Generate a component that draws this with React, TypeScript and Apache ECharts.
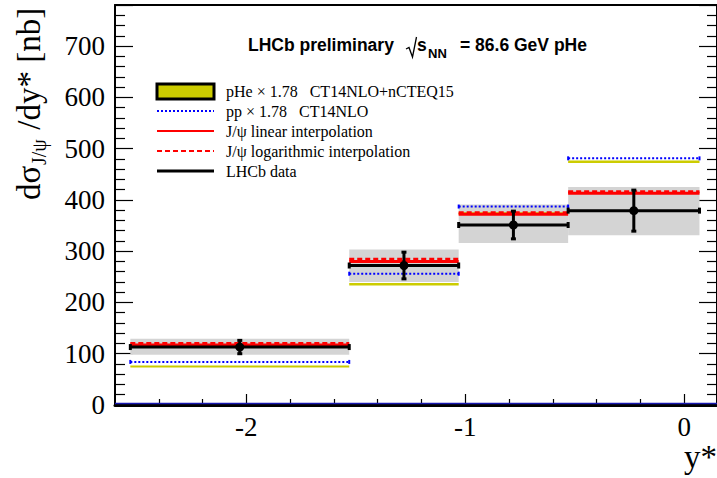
import React, { useEffect, useRef } from 'react';
import * as echarts from 'echarts';

// ---- data ----
const binLo = [-2.53, -1.53, -1.03, -0.53];
const binHi = [-1.53, -1.03, -0.53, 0.07];
const binCenter = [-2.03, -1.28, -0.78, -0.23];
const lhcbData = [113, 272, 351, 379];
const lhcbStatErr = [13, 26, 27, 40];
const lhcbBandLo = [98, 240, 316, 331];
const lhcbBandHi = [129, 303, 391, 425];
const pHeLo = [73, 233, 371, 472];
const pHeHi = [77, 238, 376, 477];
const ppValues = [84, 256, 387, 481];
const linearInterp = [117, 280, 372, 413];
const logInterp = [120, 284, 375, 416];
const xMajorTicks = [-2, -1, 0];
const xMinorTicks = [-2.4, -2.2, -1.8, -1.6, -1.4, -1.2, -0.8, -0.6, -0.4, -0.2];
const yTickLabels = [0, 100, 200, 300, 400, 500, 600, 700];
const legendLabels = [
  'pHe \u00d7 1.78   CT14NLO+nCTEQ15',
  'pp \u00d7 1.78   CT14NLO',
  'J/\u03c8 linear interpolation',
  'J/\u03c8 logarithmic interpolation',
  'LHCb data',
];

const X_MIN = -2.6;
const X_MAX = 0.15;
const Y_MIN = 0;
const Y_MAX = 780;

const SERIF = 'Liberation Serif';
const SANS = 'Liberation Sans';

function hLineRender(color: string, width: number, dash: number[] | null, capH: number) {
  return (params: any, api: any) => {
    const a = api.coord([api.value(0), api.value(2)]);
    const b = api.coord([api.value(1), api.value(2)]);
    const style: any = { stroke: color, lineWidth: width, fill: null };
    if (dash) style.lineDash = dash;
    const children: any[] = [
      { type: 'line', shape: { x1: a[0], y1: a[1], x2: b[0], y2: b[1] }, style },
    ];
    if (capH > 0) {
      children.push({ type: 'line', shape: { x1: a[0], y1: a[1] - capH, x2: a[0], y2: a[1] + capH }, style: { ...style, lineDash: null } });
      children.push({ type: 'line', shape: { x1: b[0], y1: b[1] - capH, x2: b[0], y2: b[1] + capH }, style: { ...style, lineDash: null } });
    }
    return { type: 'group', children };
  };
}

function bandRender(color: string) {
  return (params: any, api: any) => {
    const p0 = api.coord([api.value(0), api.value(3)]);
    const p1 = api.coord([api.value(1), api.value(2)]);
    return {
      type: 'rect',
      shape: { x: p0[0], y: p0[1], width: p1[0] - p0[0], height: p1[1] - p0[1] },
      style: { fill: color },
    };
  };
}

export default function App() {
  const ref = useRef<HTMLDivElement>(null);
  useEffect(() => {
    if (!ref.current) return;
    const chart = echarts.init(ref.current, null, { renderer: 'svg' });

    const bandData = binLo.map((lo, i) => [lo, binHi[i], lhcbBandLo[i], lhcbBandHi[i]]);
    const pHeData = binLo.map((lo, i) => [lo, binHi[i], pHeLo[i], pHeHi[i]]);
    const ppData = binLo.map((lo, i) => [lo, binHi[i], ppValues[i]]);
    const linData = binLo.map((lo, i) => [lo, binHi[i], linearInterp[i]]);
    const logData = binLo.map((lo, i) => [lo, binHi[i], logInterp[i]]);
    const lhcbLineData = binLo.map((lo, i) => [lo, binHi[i], lhcbData[i]]);
    const errData = binCenter.map((c, i) => [c, lhcbData[i], lhcbStatErr[i]]);

    const legendY0 = 91;
    const legendDy = 20;
    const legendGraphics: any[] = [
      { type: 'rect', shape: { x: 157, y: legendY0 - 7, width: 57, height: 15 }, style: { fill: '#cccc00', stroke: '#000', lineWidth: 3 } },
      { type: 'line', shape: { x1: 157, y1: legendY0 + legendDy, x2: 214, y2: legendY0 + legendDy }, style: { stroke: '#0000ff', lineWidth: 2, lineDash: [2, 2] } },
      { type: 'line', shape: { x1: 157, y1: legendY0 + 2 * legendDy, x2: 214, y2: legendY0 + 2 * legendDy }, style: { stroke: '#ff0000', lineWidth: 2 } },
      { type: 'line', shape: { x1: 157, y1: legendY0 + 3 * legendDy, x2: 214, y2: legendY0 + 3 * legendDy }, style: { stroke: '#ff0000', lineWidth: 2, lineDash: [5, 3] } },
      { type: 'line', shape: { x1: 157, y1: legendY0 + 4 * legendDy, x2: 214, y2: legendY0 + 4 * legendDy }, style: { stroke: '#000', lineWidth: 3 } },
      ...legendLabels.map((t, i) => ({
        type: 'text',
        x: 226,
        y: legendY0 + i * legendDy,
        style: { text: t, fontFamily: SERIF, fontSize: 16, fill: '#000', verticalAlign: 'middle', align: 'left' },
      })),
    ];

    const titleGraphics: any[] = [
      { type: 'text', x: 248, y: 45, style: { text: 'LHCb preliminary', fontFamily: SANS, fontWeight: 'bold', fontSize: 17.5, fill: '#000', verticalAlign: 'middle' } },
      { type: 'polyline', shape: { points: [[406, 49], [409, 47.5], [412.5, 57], [416.5, 37]] }, style: { stroke: '#000', lineWidth: 1.3, fill: null } },
      { type: 'text', x: 417, y: 45, style: { text: 's', fontFamily: SANS, fontWeight: 'bold', fontSize: 17.5, fill: '#000', verticalAlign: 'middle' } },
      { type: 'text', x: 428, y: 53, style: { text: 'NN', fontFamily: SANS, fontWeight: 'bold', fontSize: 13, fill: '#000', verticalAlign: 'middle' } },
      { type: 'text', x: 460, y: 45, style: { text: '= 86.6 GeV pHe', fontFamily: SANS, fontWeight: 'bold', fontSize: 17.5, fill: '#000', verticalAlign: 'middle' } },
    ];

    const yTitle: any = {
      type: 'group',
      x: 29,
      y: 200,
      rotation: Math.PI / 2,
      children: [
        { type: 'text', x: 0, y: 0, style: { text: 'd\u03c3', fontFamily: SERIF, fontSize: 33, fill: '#000', verticalAlign: 'middle' } },
        { type: 'text', x: 35, y: 10, style: { text: 'J/\u03c8', fontFamily: SERIF, fontSize: 20, fill: '#000', verticalAlign: 'middle' } },
        { type: 'text', x: 62, y: 0, style: { text: ' /dy* [nb]', fontFamily: SERIF, fontSize: 33, fill: '#000', verticalAlign: 'middle' } },
      ],
    };

    const xTitle: any = { type: 'text', x: 717, y: 457, style: { text: 'y*', fontFamily: SERIF, fontSize: 33, fill: '#000', align: 'right', verticalAlign: 'middle' } };

    const axisCommonY = {
      type: 'value',
      min: Y_MIN,
      max: Y_MAX,
      interval: 100,
      splitLine: { show: false },
      axisLine: { show: true, onZero: false, lineStyle: { color: '#000', width: 2 } },
      axisTick: { show: true, inside: true, length: 18, lineStyle: { color: '#000', width: 1.2 } },
      minorTick: { show: true, splitNumber: 5, length: 10, lineStyle: { color: '#000', width: 1.2 } },
    };

    chart.setOption({
      animation: false,
      backgroundColor: '#fff',
      grid: { left: 115, top: 5, width: 604, height: 400, containLabel: false },
      xAxis: [
        {
          type: 'value', min: X_MIN, max: X_MAX, position: 'bottom',
          splitLine: { show: false },
          axisLine: { show: true, onZero: false, lineStyle: { color: '#000', width: 3 } },
          axisTick: { show: true, inside: true, length: 11, customValues: xMajorTicks, lineStyle: { color: '#000', width: 1.2 } },
          axisLabel: { show: true, customValues: xMajorTicks, fontFamily: SERIF, fontSize: 27, color: '#000', margin: 8 },
        },
        {
          type: 'value', min: X_MIN, max: X_MAX, position: 'bottom',
          splitLine: { show: false },
          axisLine: { show: false, onZero: false },
          axisTick: { show: true, inside: true, length: 6, customValues: xMinorTicks, lineStyle: { color: '#000', width: 1.2 } },
          axisLabel: { show: false },
        },
        {
          type: 'value', min: X_MIN, max: X_MAX, position: 'top',
          splitLine: { show: false },
          axisLine: { show: true, onZero: false, lineStyle: { color: '#000', width: 2 } },
          axisTick: { show: false },
          axisLabel: { show: false },
        },
      ],
      yAxis: [
        {
          ...axisCommonY,
          position: 'left',
          axisLabel: {
            show: true, fontFamily: SERIF, fontSize: 27, color: '#000', margin: 10,
            formatter: (v: number) => (yTickLabels.indexOf(v) >= 0 ? String(v) : ''),
          },
        },
        {
          ...axisCommonY,
          position: 'right',
          axisLabel: { show: false },
        },
      ],
      graphic: [...legendGraphics, ...titleGraphics, yTitle, xTitle],
      series: [
        { type: 'custom', name: 'lhcbBand', coordinateSystem: 'cartesian2d', data: bandData, renderItem: bandRender('#d4d4d4'), encode: { x: [0, 1], y: [2, 3] }, z: 2 },
        { type: 'custom', name: 'pHe', coordinateSystem: 'cartesian2d', data: pHeData, renderItem: bandRender('#cccc00'), encode: { x: [0, 1], y: [2, 3] }, z: 3 },
        { type: 'custom', name: 'pp', coordinateSystem: 'cartesian2d', data: ppData, renderItem: hLineRender('#0000ff', 2, [2, 2], 2), encode: { x: [0, 1], y: 2 }, z: 4 },
        { type: 'custom', name: 'linear', coordinateSystem: 'cartesian2d', data: linData, renderItem: hLineRender('#ff0000', 3, null, 0), encode: { x: [0, 1], y: 2 }, z: 5 },
        { type: 'custom', name: 'log', coordinateSystem: 'cartesian2d', data: logData, renderItem: hLineRender('#ff0000', 3, [5, 3], 0), encode: { x: [0, 1], y: 2 }, z: 6 },
        { type: 'custom', name: 'lhcbLine', coordinateSystem: 'cartesian2d', data: lhcbLineData, renderItem: hLineRender('#000000', 3, null, 3), encode: { x: [0, 1], y: 2 }, z: 7 },
        {
          type: 'custom', name: 'lhcbErr', coordinateSystem: 'cartesian2d', data: errData, encode: { x: 0, y: 1 }, z: 8,
          renderItem: (params: any, api: any) => {
            const c = api.value(0), v = api.value(1), e = api.value(2);
            const top = api.coord([c, v + e]);
            const bot = api.coord([c, v - e]);
            const mid = api.coord([c, v]);
            const st = { stroke: '#000', lineWidth: 3 };
            return {
              type: 'group',
              children: [
                { type: 'line', shape: { x1: top[0], y1: top[1], x2: bot[0], y2: bot[1] }, style: st },
                { type: 'line', shape: { x1: top[0] - 2.5, y1: top[1], x2: top[0] + 2.5, y2: top[1] }, style: st },
                { type: 'line', shape: { x1: bot[0] - 2.5, y1: bot[1], x2: bot[0] + 2.5, y2: bot[1] }, style: st },
                { type: 'circle', shape: { cx: mid[0], cy: mid[1], r: 4.5 }, style: { fill: '#000' } },
              ],
            };
          },
        },
        {
          type: 'custom', name: 'zeroLine', coordinateSystem: 'cartesian2d', data: [[X_MIN, X_MAX, 0]], encode: { x: [0, 1], y: 2 }, z: 9,
          renderItem: (params: any, api: any) => {
            const a = api.coord([api.value(0), api.value(2)]);
            const b = api.coord([api.value(1), api.value(2)]);
            return { type: 'line', shape: { x1: a[0], y1: a[1] - 1.5, x2: b[0], y2: b[1] - 1.5 }, style: { stroke: '#1818b0', lineWidth: 1.5 } };
          },
        },
      ],
    });
    return () => chart.dispose();
  }, []);
  return <div ref={ref} style={{ width: 717, height: 478, position: 'absolute', left: 0, top: 0 }} />;
}
